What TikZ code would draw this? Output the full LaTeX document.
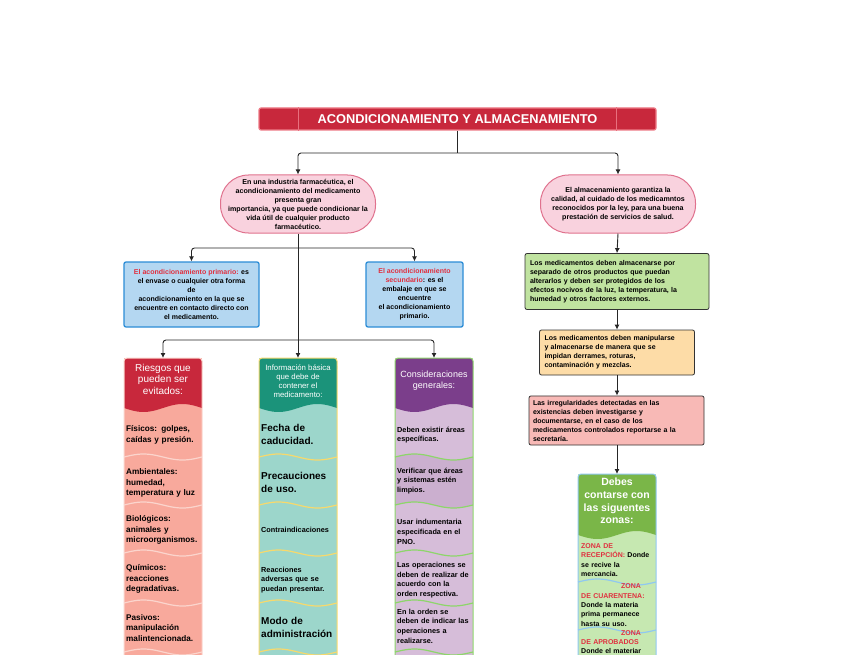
\documentclass[tikz,border=0pt]{standalone}
\usepackage{fontspec}
\setmainfont{Liberation Sans}
\usetikzlibrary{arrows.meta}

\definecolor{titlered}{HTML}{C8283C}
\definecolor{titleline}{HTML}{EE7A86}
\definecolor{titlediv}{HTML}{E8707E}
\definecolor{pillfill}{HTML}{F9D2DE}
\definecolor{pillline}{HTML}{E0728E}
\definecolor{bluefill}{HTML}{B4D7F1}
\definecolor{blueline}{HTML}{2C8DD6}
\definecolor{keyred}{HTML}{E0303F}
\definecolor{riskhead}{HTML}{C8283C}
\definecolor{riskbody}{HTML}{F8A99C}
\definecolor{riskline}{HTML}{FBD5CD}
\definecolor{infohead}{HTML}{1B937A}
\definecolor{infobody}{HTML}{9CD6CB}
\definecolor{infoline}{HTML}{F7D96C}
\definecolor{conshead}{HTML}{7B3E8B}
\definecolor{consbody}{HTML}{D6BDD9}
\definecolor{consdark}{HTML}{CBAFCF}
\definecolor{consline}{HTML}{8DD66A}
\definecolor{zonehead}{HTML}{7AB648}
\definecolor{zonebody}{HTML}{C6E8B1}
\definecolor{zoneline}{HTML}{90C8F0}
\definecolor{almacfill}{HTML}{C0E3A0}
\definecolor{manipfill}{HTML}{FDDCA7}
\definecolor{irregfill}{HTML}{F8B9B6}

\tikzset{
  txt/.style={font=\bfseries\fontsize{7}{9}\selectfont, align=center, inner sep=1pt},
  titlebox/.style={fill=titlered, draw=titleline, line width=1.2pt, rounded corners=2pt,
    minimum width=397pt, minimum height=22pt, text=white, font=\bfseries\fontsize{12.8}{14}\selectfont},
  pill/.style={txt, font=\bfseries\fontsize{7.1}{9}\selectfont, rounded corners=28pt, fill=pillfill,
    draw=pillline, line width=1pt, minimum width=155pt, minimum height=58pt},
  bluebox/.style={txt, fill=bluefill, draw=blueline, line width=1.3pt, rounded corners=2pt,
    minimum width=135pt, minimum height=65pt},
  notebox/.style={txt, align=left, draw=black!80, line width=0.8pt, rounded corners=2pt, inner xsep=5pt, inner ysep=4pt},
  headtxt/.style={text=white, align=center, inner sep=0pt},
  itemtxt/.style={anchor=west, align=left, text width=80pt, inner sep=0pt, font=\bfseries\fontsize{8.2}{10.5}\selectfont},
  big/.style={font=\bfseries\fontsize{10}{13}\selectfont},
  small/.style={font=\bfseries\fontsize{7.3}{9.5}\selectfont},
  arr/.style={-{Latex[length=5pt,width=5pt]}, line width=0.9pt, black!85, rounded corners=3pt},
  link/.style={line width=0.9pt, black!85, rounded corners=3pt}
}

\begin{document}
\begin{tikzpicture}[x=1pt,y=-1pt]
\useasboundingbox[fill=white] (0,0) rectangle (848,655);

% title
\node[titlebox] (title) at (457.5,119) {ACONDICIONAMIENTO Y ALMACENAMIENTO};
\draw[titlediv, line width=0.8pt] ([xshift=40pt]title.north west) -- ([xshift=40pt]title.south west);
\draw[titlediv, line width=0.8pt] ([xshift=-40pt]title.north east) -- ([xshift=-40pt]title.south east);

\node[pill] (acond) at (298,204) {En una industria farmacéutica, el\\acondicionamiento del medicamento\\presenta gran\\importancia, ya que puede condicionar la\\vida útil de cualquier producto\\farmacéutico.};
\node[pill] (almac) at (618,204) {El almacenamiento garantiza la\\calidad, al cuidado de los medicamntos\\reconocidos por la ley, para una buena\\prestación de servicios de salud.};

\coordinate (j1) at (457.5,153);
\draw[link] (title.south) -- (j1);
\draw[arr] (j1) -| (acond.north);
\draw[arr] (j1) -| (almac.north);

% acondicionamiento
\node[bluebox] (prim) at (191.5,294.5) {\textcolor{keyred}{El acondicionamiento primario:} es\\el envase o cualquier otra forma\\de\\acondicionamiento en la que se\\encuentre en contacto directo con\\el medicamento.};
\node[bluebox, minimum width=97pt] (sec) at (414.5,294.5) {\textcolor{keyred}{El acondicionamiento}\\\textcolor{keyred}{secundario}: es el\\embalaje en que se\\encuentre\\el acondicionamiento\\primario.};

\coordinate (j2) at (298,248);
\coordinate (j3) at (298,340);
\draw[arr] (j2) -| (prim.north);
\draw[arr] (j2) -| (sec.north);

% columns
\foreach \cx/\hc/\bc/\lc [count=\k] in {124/riskhead/riskbody/riskline, 259/infohead/infobody/infoline, 395/conshead/consbody/consline}{
  \fill[\bc] (\cx,358) rectangle (\cx+78,680);
  \ifnum\k=3
    \fill[consdark] plot[domain=\cx:\cx+78, samples=30, smooth, variable=\u] (\u,{457+3*sin(4.6154*(\u-\cx)+180)})
      -- plot[domain=\cx+78:\cx, samples=30, smooth, variable=\u] (\u,{505+3*sin(4.6154*(\u-\cx)+180)}) -- cycle;
  \fi
  \fill[\hc] (\cx,366) -- plot[domain=\cx:\cx+78, samples=30, smooth, variable=\u] (\u,{408+4*sin(4.6154*(\u-\cx))}) -- (\cx+78,366) -- cycle;
  \fill[\hc, rounded corners=3pt] (\cx,372) rectangle (\cx+78,358);
  \foreach \sy in {457,505,553,603,652}
    \draw[\lc, line width=1.2pt] plot[domain=\cx:\cx+78, samples=30, smooth, variable=\u] (\u,{\sy+3*sin(4.6154*(\u-\cx)+180)});
  \draw[\lc, line width=1pt, rounded corners=3pt] (\cx,680) -- (\cx,358) -- (\cx+78,358) -- (\cx+78,680);
  \coordinate (col\k) at (\cx+39,358);
}

\node[headtxt, font=\fontsize{10}{11.5}\selectfont] (riesgos) at (163,379) {Riesgos que\\pueden ser\\evitados:};
\node[headtxt, font=\fontsize{7.8}{9}\selectfont] (info) at (298,381) {Información básica\\que debe de\\contener el\\medicamento:};
\node[headtxt, font=\fontsize{9}{11}\selectfont] (consid) at (434,381) {Consideraciones\\generales:};

\foreach \y/\s [count=\i] in {435/{Físicos: golpes,\\caídas y presión.}, 483/{Ambientales:\\humedad,\\temperatura y luz}, 530/{Biológicos:\\animales y\\microorganismos.}, 579/{Químicos:\\reacciones\\degradativas.}, 628/{Pasivos:\\manipulación\\malintencionada.}}
  \node[itemtxt] (r\i) at (126,\y) {\s};

\foreach \y/\f/\s [count=\i] in {434/big/{Fecha de\\caducidad.}, 482/big/{Precauciones\\de uso.}, 530/small/{Contraindicaciones}, 580/small/{Reacciones\\adversas que se\\puedan presentar.}, 627/big/{Modo de\\administración}}
  \node[itemtxt, \f] (b\i) at (261,\y) {\s};

\foreach \y/\s [count=\i] in {435/{Deben existir áreas\\específicas.}, 481/{Verificar que áreas\\y sistemas estén\\limpios.}, 532/{Usar indumentaria\\especificada en el\\PNO.}, 580/{Las operaciones se\\deben de realizar de\\acuerdo con la\\orden respectiva.}, 626/{En la orden se\\deben de indicar las\\operaciones a\\realizarse.}}
  \node[itemtxt, font=\bfseries\fontsize{7.3}{9.7}\selectfont] (c\i) at (397,\y) {\s};

\draw[link] (acond.south) -- (j2);
\draw[arr] (j2) -- (col2);
\draw[arr] (j3) -| (col1);
\draw[arr] (j3) -| (col3);

% almacenamiento
\node[notebox, fill=almacfill, text width=174pt, minimum height=56pt] (separar) at (617,281.5) {Los medicamentos deben almacenarse por\\separado de otros productos que puedan\\alterarlos y deben ser protegidos de los\\efectos nocivos de la luz, la temperatura, la\\humedad y otros factores externos.};
\node[notebox, fill=manipfill, text width=145pt, minimum height=45pt] (manip) at (617,352.5) {Los medicamentos deben manipularse\\y almacenarse de manera que se\\impidan derrames, roturas,\\contaminación y mezclas.};
\node[notebox, fill=irregfill, text width=167pt, inner xsep=4pt, minimum height=46pt] (irreg) at (616.5,420.5) {Las irregularidades detectadas en las\\existencias deben investigarse y\\documentarse, en el caso de los\\medicamentos controlados reportarse a la\\secretaría.};

\fill[zonebody] (578,474) rectangle (656,680);
\fill[zonehead] (578,480) -- plot[domain=578:656, samples=30, smooth, variable=\u] (\u,{535+4*sin(4.6154*(\u-578))}) -- (656,480) -- cycle;
\fill[zonehead, rounded corners=3pt] (578,486) rectangle (656,474);
\foreach \sy in {582,630}
  \draw[zoneline, line width=1.2pt] plot[domain=578:656, samples=30, smooth, variable=\u] (\u,{\sy+3*sin(4.6154*(\u-578)+180)});
\draw[zoneline, line width=1pt, rounded corners=3pt] (578,680) -- (578,474) -- (656,474) -- (656,680);
\coordinate (col4) at (617,474);

\node[headtxt, font=\bfseries\fontsize{10.5}{12.7}\selectfont] (zonas) at (617,501) {Debes\\contarse con\\las siguentes\\zonas:};
\node[itemtxt, font=\bfseries\fontsize{7}{9.4}\selectfont] (z1) at (581,560) {\textcolor{keyred}{ZONA DE}\\\textcolor{keyred}{RECEPCIÓN:} Donde\\se recive la\\mercancia.};
\node[itemtxt, font=\bfseries\fontsize{7}{9.4}\selectfont] (z2) at (581,605) {\hspace*{40pt}\textcolor{keyred}{ZONA}\\\textcolor{keyred}{DE CUARENTENA:}\\Donde la materia\\prima permanece\\hasta su uso.};
\node[itemtxt, font=\bfseries\fontsize{7}{9.4}\selectfont, anchor=north west] (z3) at (581,630) {\hspace*{40pt}\textcolor{keyred}{ZONA}\\\textcolor{keyred}{DE APROBADOS}\\Donde el materiar};

\draw[arr] (almac.south) -- (separar.north);
\draw[arr] (separar.south) -- (manip.north);
\draw[arr] (manip.south) -- (irreg.north -| manip.south);
\draw[arr] (irreg.south -| col4) -- (col4);
\end{tikzpicture}
\end{document}
